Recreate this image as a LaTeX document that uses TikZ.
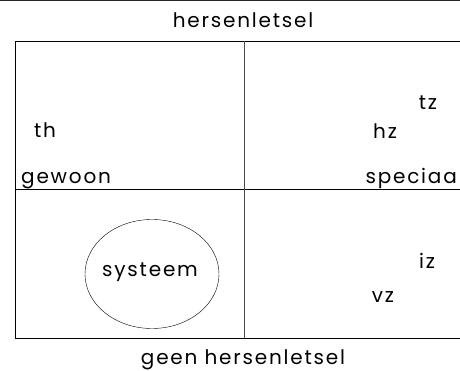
\documentclass[tikz,border=0pt]{standalone}
\usepackage{fontspec}
\setmainfont[LetterSpace=9]{Poppins}
\usepackage{tikz}
\usetikzlibrary{positioning,shapes.geometric}
\tikzset{lbl/.style={inner sep=0pt,font=\fontsize{20}{24}\selectfont}}

\begin{document}
\begin{tikzpicture}[x=1pt,y=-1pt]
\useasboundingbox (0,0) rectangle (460,371);

% Top rule
\draw[line width=1pt,black!85] (0,1) -- (460,1);

% Grid
\draw[line width=0.8pt] (460,41) -- (15,41) -- (15,338) -- (460,338);
\draw[line width=0.8pt] (15,189) -- (460,189);
\draw[line width=0.8pt,black!70] (244,41) -- (244,338);

% Labels
\node[lbl] (top) at (243,20) {hersenletsel};
\node[lbl,anchor=base] (bot) at (243,364) {geen hersenletsel};
\node[lbl] (th) at (45,130) {th};
\node[lbl,anchor=base west] (gew) at (21,184) {gewoon};
\node[lbl,anchor=base east] (spec) at (457,184) {speciaa};
\node[lbl] (tz) at (428,103) {tz};
\node[lbl] (hz) at (385,131) {hz};
\node[lbl] (iz) at (427,261) {iz};
\node[lbl] (vz) at (383,297) {vz};

% Ellipse
\node[lbl,draw,ellipse,minimum width=134pt,minimum height=109pt] (sys) at (152,274) {};
\node[lbl] (syst) at (150,272) {systeem};
\end{tikzpicture}
\end{document}
